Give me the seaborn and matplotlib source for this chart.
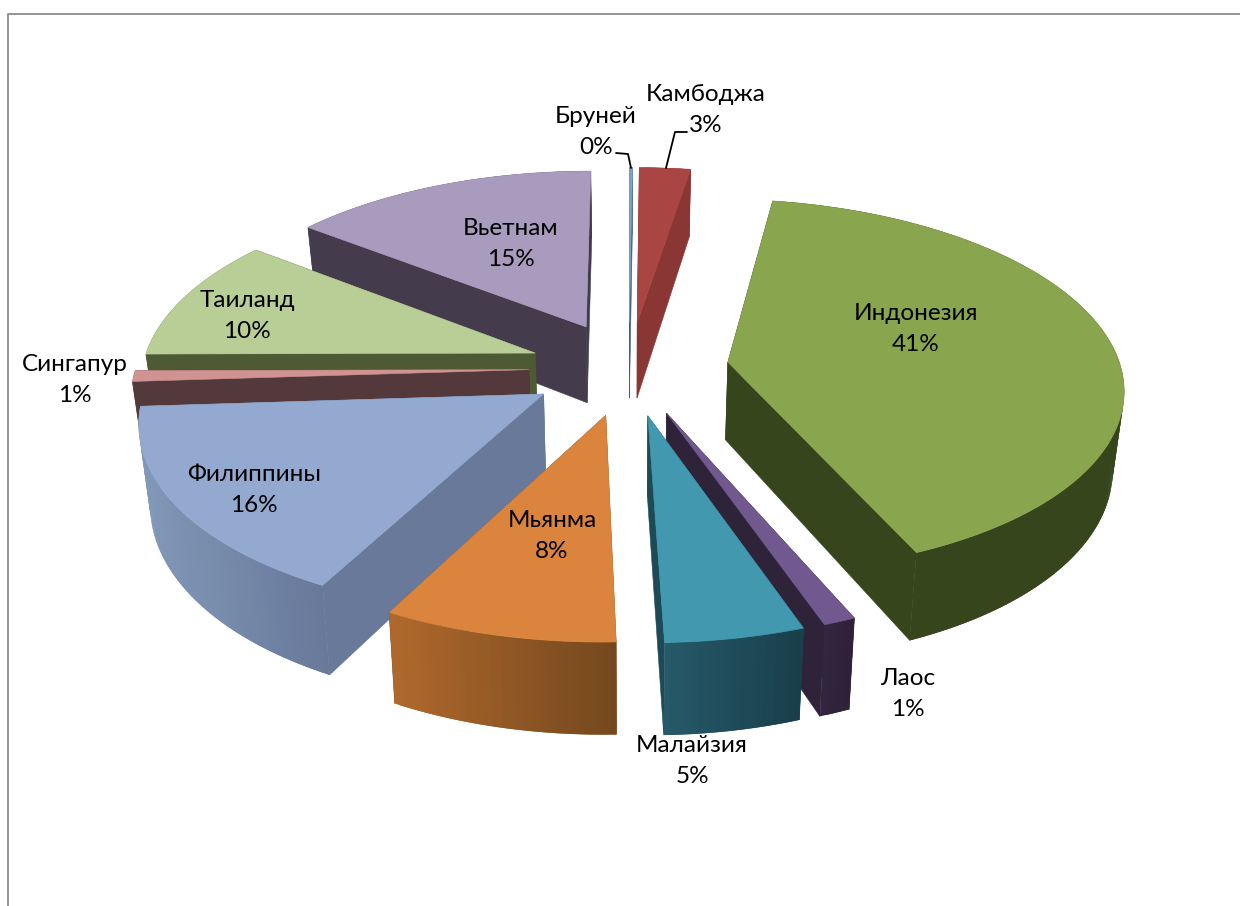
import numpy as np
import matplotlib
matplotlib.use("Agg")
import matplotlib.pyplot as plt
import seaborn as sns

sns.set_theme(style="white")
plt.rcParams['font.family'] = ['Lato', 'Open Sans', 'DejaVu Sans']

# Chart data, clockwise from the top
countries = ["Бруней", "Камбоджа", "Индонезия", "Лаос", "Малайзия",
             "Мьянма", "Филиппины", "Сингапур", "Таиланд", "Вьетнам"]
shares = [0.14, 2.42, 40.94, 1.14, 4.89, 8.19, 16.28, 0.92, 10.56, 14.53]
share_labels = ["0%", "3%", "41%", "1%", "5%", "8%", "16%", "1%", "10%", "15%"]

# Colours: top face, flat wall, rim gradient left to right
top_colors = ["#7ea3cc", "#a94543", "#89a54e", "#71588f", "#4198af",
              "#db843d", "#93a9cf", "#d19392", "#b9cd96", "#a99bbd"]
wall_colors = ["#3a5f8c", "#8a3634", "#37451c", "#2f2339", "#1d4a57",
               "#7c4c22", "#68799a", "#53393b", "#4d5a33", "#443c4c"]
rim_left = ["#3a5f8c", "#8a3634", "#37451c", "#33263f", "#265a6a",
            "#b0692c", "#8298b8", "#53393b", "#4d5a33", "#443c4c"]
rim_right = ["#3a5f8c", "#8a3634", "#37451c", "#2d2238", "#193f4a",
             "#74481e", "#68799a", "#53393b", "#4d5a33", "#443c4c"]

# Label centres in pixels
label_x = [596, 706, 916, 908, 692, 552, 254, 75, 247, 511]
label_y = [132, 110, 329, 694, 761, 536, 490, 380, 316, 244]

# Projection settings
cx, cy = 629, 368
tilt = 0.471
depth = 3120
radius = 393
explode = 100
thick = 78


def project(x, y, z=0.0):
    s = depth / (depth + y)
    shrink = 1 - 0.0003 * z
    return cx + x * s * shrink, cy - tilt * y * s + z * s


def arc_points(a0, a1, off, n):
    t = np.radians(np.linspace(a0, a1, n))
    return off[0] + radius * np.sin(t), off[1] + radius * np.cos(t)


fig = plt.figure(figsize=(12.4, 9.06), dpi=100)
ax = fig.add_axes([0, 0, 1, 1])
ax.set_xlim(0, 1240)
ax.set_ylim(906, 0)
ax.axis("off")

# grey chart frame (top and left only, the rest is cut off)
ax.plot([8, 8, 1240], [906, 14, 14], color="#8c8c8c", lw=1.3, solid_capstyle="butt")

total = sum(shares)
edges = np.concatenate([[0], np.cumsum(shares)]) / total * 360
mids = (edges[:-1] + edges[1:]) / 2

# back slices first
order = np.argsort(-np.cos(np.radians(mids)))
for i in order:
    a0, a1 = edges[i], edges[i + 1]
    m = np.radians(mids[i])
    off = (explode * np.sin(m), explode * np.cos(m))
    n = max(int((a1 - a0) * 1.5), 3)
    xs, ys = arc_points(a0, a1, off, n)

    # radial walls
    for ex, ey in [(xs[0], ys[0]), (xs[-1], ys[-1])]:
        p = [project(off[0], off[1]), project(ex, ey),
             project(ex, ey, thick), project(off[0], off[1], thick)]
        ax.fill(*zip(*p), color=wall_colors[i], lw=0.4)

    # outer rim as small overlapping quads with a left to right shade
    ramp = sns.blend_palette([rim_left[i], rim_right[i]], n_colors=64)
    sx = np.array([project(x, y)[0] for x, y in zip(xs, ys)])
    lo, hi = sx.min(), sx.max()
    run = range(n - 1)
    if sx[0] > sx[-1]:
        run = reversed(run)   # keep the overlap going the same way on screen
    for k in run:
        j = min(k + 2, n - 1) if sx[0] < sx[-1] else k + 1
        h = k if sx[0] < sx[-1] else max(k - 1, 0)
        q = [project(xs[h], ys[h]), project(xs[j], ys[j]),
             project(xs[j], ys[j], thick), project(xs[h], ys[h], thick)]
        pos = (sx[k] - lo) / max(hi - lo, 1)
        ax.fill(*zip(*q), color=ramp[int(pos * 63)], lw=0)

    # top face
    top = [project(off[0], off[1])] + [project(x, y) for x, y in zip(xs, ys)]
    ax.fill(*zip(*top), color=top_colors[i], lw=0.4)

# labels
for name, val, lx, ly in zip(countries, share_labels, label_x, label_y):
    ax.text(lx, ly, f"{name}\n{val}", ha="center", va="center",
            fontsize=17.5, color="black", linespacing=1.6)

# leader lines for the two thin slices
ax.plot([616, 628, 631], [153, 154, 168], color="black", lw=1.3)
ax.plot([687, 675, 666], [132, 132, 168], color="black", lw=1.3)

fig.savefig("out.png", dpi=100, facecolor="white")
